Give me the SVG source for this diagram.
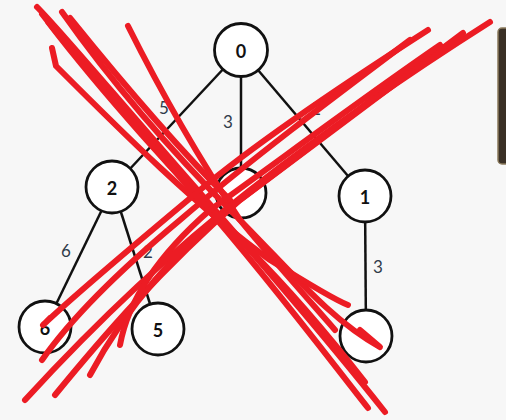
<svg xmlns="http://www.w3.org/2000/svg" width="506" height="420" viewBox="0 0 506 420">
  <style>
    .edge { stroke: #111; stroke-width: 2.5; fill: none; }
    .node circle { fill: #fff; stroke: #111; stroke-width: 2.8; }
    .node text { font-family: "Lato", "Liberation Sans", sans-serif; font-weight: bold; font-size: 18px; fill: #111; text-anchor: middle; dominant-baseline: central; }
    .wt { font-family: "Lato", "Liberation Sans", sans-serif; font-size: 17px; fill: #2f3b4a; text-anchor: middle; dominant-baseline: central; }
    .ink { fill: none; stroke: #ec1c24; stroke-width: 6; stroke-linecap: round; stroke-linejoin: round; }
  </style>
  <rect width="506" height="420" fill="#f7f7f7"/>
  <!-- side panel edge -->
  <rect x="498" y="28" width="14" height="136" rx="4" fill="#3a3026" stroke="#8a7a5c" stroke-width="1.5"/>

  <g id="connectors">
    <line class="edge" x1="241" y1="50" x2="113" y2="187"/>
    <line class="edge" x1="241" y1="50" x2="241" y2="193"/>
    <line class="edge" x1="241" y1="50" x2="365" y2="196"/>
    <line class="edge" x1="113" y1="187" x2="45" y2="327"/>
    <line class="edge" x1="113" y1="187" x2="158" y2="329"/>
    <line class="edge" x1="365" y1="196" x2="366" y2="336"/>
    <text class="wt" x="164" y="107">5</text>
    <text class="wt" x="228" y="121">3</text>
    <text class="wt" x="316" y="108">2</text>
    <text class="wt" x="66" y="250">6</text>
    <text class="wt" x="148" y="251">2</text>
    <text class="wt" x="378" y="266">3</text>
  </g>

  <g id="node-0" class="node"><circle cx="241" cy="50" r="26.5"/><text x="241" y="51">0</text></g>
  <g id="node-2" class="node"><circle cx="112" cy="187" r="26"/><text x="112" y="188">2</text></g>
  <g id="node-mid" class="node"><circle cx="241" cy="193" r="25"/></g>
  <g id="node-1" class="node"><circle cx="365" cy="196" r="26"/><text x="365" y="197">1</text></g>
  <g id="node-6" class="node"><circle cx="45" cy="327" r="26"/><text x="45" y="328">6</text></g>
  <g id="node-5" class="node"><circle cx="158" cy="329" r="26"/><text x="158" y="330">5</text></g>
  <g id="node-br" class="node"><circle cx="366" cy="336" r="26"/></g>

  <!-- red cross-out strokes -->
  <g id="scribble">
    <path class="ink" d="M37,7 C60,30 110,90 180,170 C250,250 320,330 385,412"/>
    <path class="ink" d="M42,14 C70,50 130,120 200,200 C270,280 330,360 368,408"/>
    <path class="ink" d="M62,12 C110,80 170,150 235,215 C290,270 330,320 380,347 L360,330"/>
    <path class="ink" d="M52,48 L56,66 C120,130 200,210 270,260 C310,285 335,300 348,305"/>
    <path class="ink" d="M48,22 C100,90 180,180 250,250 C300,300 340,350 365,382"/>
    <path class="ink" d="M128,26 C160,90 200,160 240,220 C260,245 300,290 335,330"/>
    <path class="ink" d="M70,18 C120,80 180,150 230,200"/>
    <path class="ink" d="M490,22 C430,60 340,120 250,190 C160,260 80,340 25,400"/>
    <path class="ink" d="M463,33 C400,80 320,140 240,200 C160,270 100,340 55,395"/>
    <path class="ink" d="M428,30 C350,80 260,140 200,190 C140,240 80,290 43,325 L50,318"/>
    <path class="ink" d="M428,55 C360,110 280,170 220,215 C180,250 130,300 90,375"/>
    <path class="ink" d="M410,40 C330,100 250,160 180,220 C120,270 70,320 42,360"/>
    <path class="ink" d="M440,45 C360,100 280,160 210,210 C170,245 130,290 120,345"/>
  </g>
</svg>
